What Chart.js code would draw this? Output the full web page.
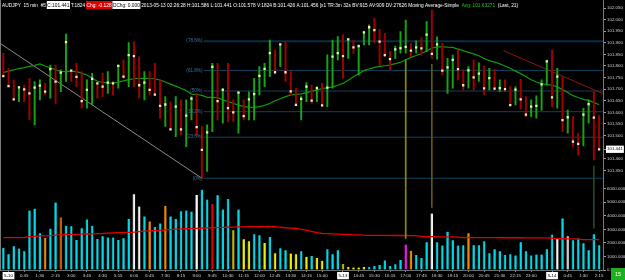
<!DOCTYPE html>
<html><head><meta charset="utf-8">
<script src="https://cdn.jsdelivr.net/npm/chart.js"></script>
<style>html,body{margin:0;padding:0;background:#000;overflow:hidden}canvas{display:block}</style>
</head><body>
<canvas id="c" width="625" height="280"></canvas>
<script>
const FONT = "'Liberation Sans', Arial, sans-serif";

// sessions: [date, time of first bar, number of 15-min bars]
const sessions = [['5-9','23:45',1],['5-10','0:00',64],['5-13','14:00',40],['5-14','0:00',10]];

const high = [
101.855,101.790,101.740,101.711,101.718,101.747,101.733,101.740,101.725,101.804,
101.804,101.783,101.938,101.783,101.811,101.776,101.740,101.768,101.725,101.768,
101.776,101.733,101.804,101.826,101.901,101.905,101.840,101.776,101.776,101.811,
101.740,101.668,101.646,101.668,101.654,101.654,101.668,101.682,101.539,101.546,
101.811,101.811,101.704,101.811,101.654,101.689,101.654,101.689,101.747,101.797,
101.811,101.912,101.869,101.895,101.905,101.780,101.704,101.668,101.728,101.718,
101.711,101.725,101.848,101.912,101.927,101.934,101.918,101.912,101.891,101.948,
101.977,102.007,101.958,101.941,101.862,101.886,101.948,101.998,101.898,101.908,
101.922,101.991,102.041,101.926,101.898,101.833,101.847,101.869,101.783,101.797,
101.826,101.814,101.800,101.790,101.786,101.740,101.740,101.711,101.711,101.743,
101.668,101.654,101.671,101.740,101.826,101.869,101.790,101.754,101.610,101.582,
101.510,101.618,101.654,101.689,101.586];
const low = [
101.754,101.711,101.654,101.646,101.646,101.567,101.546,101.654,101.675,101.661,
101.639,101.689,101.733,101.733,101.711,101.618,101.618,101.632,101.661,101.668,
101.682,101.675,101.704,101.747,101.711,101.711,101.661,101.654,101.675,101.675,
101.574,101.539,101.524,101.495,101.503,101.452,101.567,101.502,101.316,101.345,
101.517,101.567,101.553,101.560,101.560,101.510,101.567,101.567,101.567,101.675,
101.711,101.754,101.769,101.797,101.733,101.675,101.632,101.567,101.646,101.639,
101.646,101.628,101.625,101.704,101.826,101.747,101.833,101.855,101.761,101.891,
101.891,101.898,101.804,101.840,101.783,101.833,101.855,101.855,101.840,101.855,
101.847,101.862,101.833,101.829,101.761,101.682,101.704,101.740,101.697,101.704,
101.697,101.733,101.675,101.697,101.697,101.689,101.689,101.630,101.632,101.613,
101.582,101.582,101.575,101.610,101.718,101.625,101.618,101.517,101.510,101.452,
101.416,101.455,101.553,101.395,101.441];
const close = [
101.756,101.713,101.656,101.708,101.699,101.682,101.707,101.715,101.689,101.787,
101.733,101.771,101.903,101.780,101.753,101.649,101.697,101.745,101.725,101.711,
101.728,101.725,101.801,101.754,101.847,101.843,101.717,101.728,101.697,101.677,
101.628,101.634,101.527,101.625,101.527,101.586,101.659,101.536,101.438,101.514,
101.796,101.649,101.697,101.618,101.600,101.685,101.584,101.656,101.679,101.757,
101.788,101.855,101.773,101.893,101.773,101.691,101.632,101.658,101.711,101.651,
101.705,101.630,101.707,101.840,101.855,101.843,101.915,101.880,101.886,101.945,
101.967,101.955,101.905,101.847,101.830,101.872,101.877,101.882,101.866,101.880,
101.876,101.935,101.852,101.893,101.780,101.794,101.826,101.786,101.717,101.781,
101.751,101.767,101.704,101.748,101.702,101.705,101.700,101.631,101.698,101.656,
101.590,101.625,101.628,101.721,101.820,101.665,101.754,101.567,101.579,101.474,
101.464,101.590,101.636,101.577,101.441];
const priorClose = 101.780;

// Moving Average-Simple (21)
const smaPrice = [
101.772,101.778,101.783,101.789,101.793,101.798,101.803,101.809,101.800,101.792,
101.784,101.777,101.776,101.778,101.776,101.769,101.761,101.747,101.734,101.730,
101.726,101.727,101.730,101.736,101.741,101.745,101.747,101.747,101.746,101.745,
101.739,101.731,101.722,101.713,101.704,101.694,101.679,101.677,101.673,101.665,
101.665,101.664,101.654,101.647,101.639,101.632,101.625,101.623,101.622,101.625,
101.630,101.638,101.650,101.659,101.668,101.675,101.678,101.680,101.685,101.691,
101.697,101.703,101.706,101.710,101.717,101.725,101.739,101.754,101.767,101.780,
101.787,101.794,101.798,101.801,101.804,101.810,101.816,101.826,101.837,101.845,
101.854,101.865,101.877,101.882,101.883,101.881,101.880,101.873,101.866,101.859,
101.852,101.844,101.832,101.823,101.817,101.809,101.800,101.790,101.778,101.767,
101.754,101.741,101.731,101.724,101.720,101.718,101.710,101.698,101.686,101.672,
101.664,101.656,101.652,101.643,101.633];

const volume = [
1635,1171,1757,1586,1391,4392,4514,2708,2367,3050,
4978,3880,3270,3221,2220,3074,3733,3270,2294,2489,
2391,2391,2220,2342,3782,5588,4685,3953,3587,3172,
3440,4734,3953,3758,4343,4392,4319,5539,5929,5197,
4880,5515,4465,5246,2928,4465,2269,2123,2635,2562,
2001,2440,1244,1610,1464,1220,1171,1380,976,1025,
878,683,1537,1171,1464,440,220,180,180,220,
220,290,370,708,300,430,732,1879,1415,1098,
878,2050,4172,2050,1806,2830,2196,1806,1830,2708,
1830,1830,2123,1244,1537,1391,1098,1171,1074,2050,
1391,1074,1147,1147,1537,2611,2318,3806,2489,2196,
2318,1976,1464,2635,1824];
// volume bar class per bar (n normal, o/O orange, w/g white, y/Y yellow, r red, m magenta)
const volClass = 'nnnnnnnnonnOnnnnnnnnnnnnnwwnonnonnnnnwnnrnnnYnyynnynynnyynynyynnnYyyyynnnnnnnmonnnwnnnnnnonnnnnnnnnnnnnnnnwngnnnnnnn'.split('');
const volMA = [
2394,2394,2394,2394,2394,2459,2481,2518,2525,2540,
2577,2613,2620,2628,2635,2642,2657,2664,2679,2694,
2723,2738,2752,2767,2774,2789,2826,2869,2884,2906,
2928,2957,2987,3016,3030,3045,3052,3067,3082,3104,
3126,3133,3148,3155,3170,3177,3184,3199,3199,3199,
3199,3199,3199,3162,3118,3096,3082,2994,2935,2855,
2760,2694,2679,2664,2650,2635,2620,2599,2591,2569,
2562,2562,2555,2555,2555,2547,2547,2547,2540,2540,
2489,2459,2459,2452,2452,2445,2445,2423,2394,2394,
2386,2386,2386,2386,2386,2379,2379,2379,2379,2379,
2372,2372,2372,2364,2364,2335,2313,2306,2298,2291,
2284,2247,2247,2247,2247];

const priceTicks = [102.05,102.00,101.95,101.90,101.85,101.80,101.75,101.70,101.65,101.60,101.55,101.50,101.40,101.35];
const volTicks = [0,1000,2000,3000,4000,5000,6000];
const lastPrice = 101.441;

const fibLabels = ['(0%)','(23.6%)','(38.2%)','(50%)','(61.8%)','(78.6%)'];
const fibPrices = [101.316,101.493,101.603,101.692,101.781,101.907];
const fibFromBar = 38.3;
const trendGrey = [[-0.63,101.898],[38,101.316]];
const trendRed = [[95.7,101.866],[114.75,101.681]];
const spikeBars = [77,82,113];

// ---------- derived structures ----------
const X_MIN = -0.63, X_MAX = 114.75;
const P_MIN = 101.271, P_MAX = 102.0845;
const V_MAX = 6000;

const barTime = [], dateAt = {}, tickIdx = [];
(function(){
  let idx = 0;
  sessions.forEach(([d, t, n], s) => {
    const [h, m] = t.split(':').map(Number);
    for (let k = 0; k < n; k++) {
      const mins = h * 60 + m + 15 * k;
      barTime.push((Math.floor(mins / 60) % 24) + ':' + String(mins % 60).padStart(2, '0'));
      if (n >= 3) {
        if (k === 0) { tickIdx.push(idx); dateAt[idx] = d; }
        else if (k % 3 === 0 && (s === sessions.length - 1 || n - k > 2)) tickIdx.push(idx);
      }
      idx++;
    }
  });
})();

const upBar = close.map((c, i) => c > (i ? close[i - 1] : priorClose));
const volColors = {n:'#00d8e6', o:'#f28a00', O:'#c85c00', w:'#f4f4f4', g:'#c9c9c9', y:'#eded00', Y:'#c2b400', r:'#e00000', m:'#e020e0'};
const volEdge = {n:'#006a74', o:'#7a4400', O:'#6a3000', w:'#8a8a8a', g:'#707070', y:'#7a7a00', Y:'#6a6000', r:'#700000', m:'#700070'};
const spikeColors = ['#8c8c00', '#5c5c08', '#234a23'];

const xy = (arr) => arr.map((v, i) => ({x: i, y: v}));

const datasets = [
  { type:'line', label:'Close', yAxisID:'yP', data: xy(close), showLine:false,
    pointStyle:'rect', pointRadius:1.6, pointBackgroundColor:'#e9f0c8', pointBorderWidth:0 },
  { type:'bar', label:'AUDJPY', yAxisID:'yP', grouped:false, barThickness:1.3,
    data: high.map((h, i) => ({x: i, y: [low[i], h]})),
    backgroundColor: upBar.map(u => u ? '#16a416' : '#a20000') },
  { type:'line', label:'Moving Average-Simple', yAxisID:'yP', data: xy(smaPrice),
    borderColor:'#0e9a0e', borderWidth:1.2, pointRadius:0 },
  { type:'bar', label:'Spike price', yAxisID:'yP', grouped:false, barThickness:1,
    data: spikeBars.map(i => ({x: i, y: [P_MIN, low[i] - 0.026]})), backgroundColor: spikeColors },
  { type:'bar', label:'Spike volume', yAxisID:'yV', grouped:false, barThickness:1,
    data: spikeBars.map(i => ({x: i, y: [volume[i] + 450, V_MAX]})), backgroundColor: spikeColors },
  { type:'line', label:'Trend 1', yAxisID:'yP', data: trendGrey.map(([x, y]) => ({x, y})),
    borderColor:'#8a8a8a', borderWidth:1, pointRadius:0 },
  { type:'line', label:'Trend 2', yAxisID:'yP', data: trendRed.map(([x, y]) => ({x, y})),
    borderColor:'#8e1414', borderWidth:1, pointRadius:0 },
  ...fibPrices.map((p, k) => ({ type:'line', label:fibLabels[k], yAxisID:'yP',
    data:[{x: fibFromBar, y: p}, {x: X_MAX, y: p}],
    borderColor: k === 5 ? '#0b2c44' : '#124262', borderWidth: k === 5 ? 2 : 1, pointRadius:0 })),
  { type:'line', label:'Volume MA', yAxisID:'yV', data: xy(volMA),
    borderColor:'#e40000', borderWidth:1.3, pointRadius:0 },
  { type:'bar', label:'Volume', yAxisID:'yV', grouped:false, barThickness:2.4,
    data: xy(volume),
    backgroundColor: volClass.map(c => volColors[c]),
    borderColor: volClass.map(c => volEdge[c]),
    borderWidth: {left:0.8, right:0, top:0, bottom:0}, borderSkipped:false }
];

const titleParts = [
  ['AUDJPY  15 min  #5 ', '#ffffff', null],
  ['C:101.441', '#000000', '#ffffff'],
  [' T:1824 ', '#ffffff', null],
  ['Chg: -0.128', '#ffffff', '#e00000'],
  [' ', '#ffffff', null],
  ['DChg: 0.000', '#000000', '#ffffff'],
  [' 2013-05-13 02:26:28 H:101.586 L:101.441 O:101.578 V:1824 B:101.426 A:101.456 [x1 TR:3m 32s BV:915 AV:909 DV:27626 Moving Average-Simple  ', '#ffffff', null],
  ['Avg: 101.63271', '#22c422', null],
  ['  (Last, 21)', '#ffffff', null]
];

const overlay = {
  id: 'overlay',
  afterDatasetsDraw(chart) {
    const ctx = chart.ctx, xs = chart.scales.x, ys = chart.scales.yP;
    ctx.save();
    ctx.font = '4.6px ' + FONT;
    ctx.fillStyle = '#3f74a8';
    ctx.textAlign = 'right';
    ctx.textBaseline = 'middle';
    fibPrices.forEach((p, k) => ctx.fillText(fibLabels[k], xs.getPixelForValue(fibFromBar) - 1, ys.getPixelForValue(p)));
    ctx.restore();
  },
  afterDraw(chart) {
    const ctx = chart.ctx, a = chart.chartArea;
    ctx.save();
    ctx.strokeStyle = '#7a7a7a'; ctx.lineWidth = 1;
    ctx.beginPath(); ctx.moveTo(a.left + 0.5, a.top); ctx.lineTo(a.left + 0.5, a.bottom); ctx.stroke();
    ctx.font = '4.8px ' + FONT;
    ctx.textBaseline = 'middle';
    ctx.textAlign = 'left';
    let x = 2;
    titleParts.forEach(([t, fg, bg]) => {
      const w = ctx.measureText(t).width;
      if (bg) { ctx.fillStyle = bg; ctx.fillRect(x - 0.5, 1, w + 1, 8); }
      ctx.fillStyle = fg;
      ctx.fillText(t, x, 5.2);
      x += w;
    });
    ctx.fillStyle = '#1fae1f';
    ctx.fillRect(611, 268, 14, 12);
    ctx.fillStyle = '#ffffff';
    ctx.font = '5.5px ' + FONT;
    ctx.textAlign = 'center';
    ctx.fillText('15', 618, 274.5);
    ctx.restore();
  }
};

const isLast = (ctx) => ctx.tick && Math.abs(ctx.tick.value - lastPrice) < 1e-9;
const isDate = (ctx) => ctx.tick && dateAt[ctx.tick.value] !== undefined;

new Chart(document.getElementById('c'), {
  type: 'bar',
  data: { datasets },
  options: {
    responsive: false, animation: false, devicePixelRatio: 1, events: [],
    layout: { padding: 0, autoPadding: false },
    plugins: { legend: {display:false}, tooltip: {enabled:false}, title: {display:false} },
    scales: {
      x: {
        type: 'linear', position: 'bottom', min: X_MIN, max: X_MAX, offset: false,
        grid: { display: true, drawOnChartArea: false, drawTicks: true, tickLength: 2, color: '#8a8a8a', offset: false },
        border: { display: true, color: '#6a6a6a' },
        afterBuildTicks: (s) => { s.ticks = tickIdx.map(v => ({value: v})); },
        afterFit: (s) => { s.height = 10; s.paddingLeft = 0; s.paddingRight = 0; },
        ticks: {
          autoSkip: false, maxRotation: 0, minRotation: 0, padding: 1,
          font: { size: 4.4, family: FONT },
          color: (ctx) => isDate(ctx) ? '#000000' : '#d4d4d4',
          showLabelBackdrop: (ctx) => isDate(ctx),
          backdropColor: (ctx) => isDate(ctx) ? '#ffffff' : 'rgba(0,0,0,0)',
          backdropPadding: { left: 1.5, right: 1.5, top: 1, bottom: 1 },
          callback: (v) => dateAt[v] !== undefined ? dateAt[v] : barTime[v]
        }
      },
      yP: {
        type: 'linear', position: 'right', stack: 'panes', stackWeight: 188.7, min: P_MIN, max: P_MAX,
        grid: { display: true, drawOnChartArea: false, drawTicks: true, tickLength: 3, color: '#a0a0a0' },
        border: { display: true, color: '#7a7a7a' },
        afterBuildTicks: (s) => { s.ticks = priceTicks.concat([lastPrice]).map(v => ({value: v})); },
        afterFit: (s) => { s.width = 22; s.paddingTop = 0; s.paddingBottom = 0; },
        ticks: {
          autoSkip: false, padding: 1,
          font: { size: 4.4, family: FONT },
          color: (ctx) => isLast(ctx) ? '#000000' : '#cfcfcf',
          showLabelBackdrop: (ctx) => isLast(ctx),
          backdropColor: (ctx) => isLast(ctx) ? '#ffffff' : 'rgba(0,0,0,0)',
          backdropPadding: { left: 1, right: 1, top: 1, bottom: 1 },
          callback: (v) => Number(v).toFixed(3)
        }
      },
      yV: {
        type: 'linear', position: 'right', stack: 'panes', stackWeight: 81.3, min: 0, max: V_MAX,
        grid: { display: true, drawOnChartArea: false, drawTicks: true, tickLength: 3, color: '#a0a0a0' },
        border: { display: true, color: '#7a7a7a' },
        afterBuildTicks: (s) => { s.ticks = volTicks.map(v => ({value: v})); },
        afterFit: (s) => { s.width = 22; s.paddingTop = 0; s.paddingBottom = 0; },
        ticks: {
          autoSkip: false, padding: 1,
          font: { size: 4.4, family: FONT },
          color: '#cfcfcf',
          callback: (v) => Number(v).toFixed(3)
        }
      }
    }
  },
  plugins: [overlay]
});
</script>
</body></html>
